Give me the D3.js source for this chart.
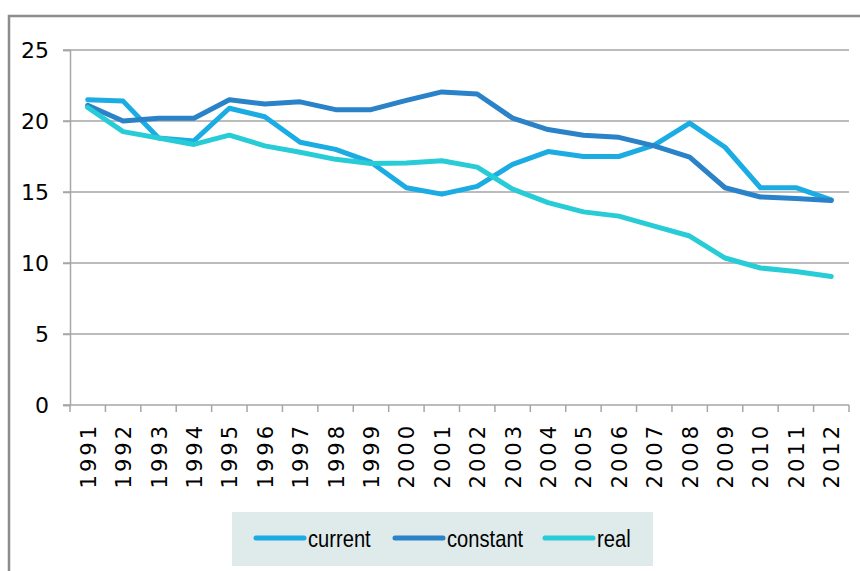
<!DOCTYPE html>
<html>
<head>
<meta charset="utf-8">
<script src="https://cdn.jsdelivr.net/npm/d3@7"></script>
<style>
  body { margin: 0; background: #fff; }
  svg { display: block; }
</style>
</head>
<body>
<div id="chart"></div>
<script>
var years = ['1991','1992','1993','1994','1995','1996','1997','1998','1999','2000','2001',
             '2002','2003','2004','2005','2006','2007','2008','2009','2010','2011','2012'];
var current  = [21.5,21.4,18.8,18.6,20.9,20.3,18.5,18.0,17.1,15.3,14.85,15.4,16.95,17.85,17.5,17.5,18.3,19.85,18.15,15.3,15.3,14.45];
var constant = [21.1,20.0,20.2,20.2,21.5,21.2,21.35,20.8,20.8,21.45,22.05,21.9,20.2,19.4,19.0,18.85,18.25,17.45,15.3,14.65,14.55,14.4];
var real     = [20.95,19.25,18.8,18.35,19.0,18.25,17.8,17.3,17.0,17.05,17.2,16.75,15.2,14.25,13.6,13.3,12.6,11.9,10.35,9.65,9.4,9.05];
var yTicks = [0, 5, 10, 15, 20, 25];

var series = [
  {name: 'current', values: current, color: '#1BACE3'},
  {name: 'constant', values: constant, color: '#2A82C8'},
  {name: 'real', values: real, color: '#28CCD6'}
];

var width = 860, height = 571;
var svg = d3.select('#chart').append('svg')
    .attr('width', width)
    .attr('height', height);

// outer frame (top + left edge only visible)
svg.append('path')
    .attr('d', 'M9,571 V16 H860')
    .attr('fill', 'none')
    .attr('stroke', '#8c8c8c')
    .attr('stroke-width', 2.5);

var x = d3.scaleBand().domain(years).range([70, 849]);
var y = d3.scaleLinear().domain([0, 25]).range([405, 50]);

// grid lines
svg.append('g')
  .selectAll('line')
  .data(yTicks.filter(function(d){ return d > 0; }))
  .enter().append('line')
    .attr('x1', 63).attr('x2', 849)
    .attr('y1', function(d){ return y(d); })
    .attr('y2', function(d){ return y(d); })
    .attr('stroke', '#a6a6a6')
    .attr('stroke-width', 1.5);

// y axis
var yAxis = svg.append('g')
    .attr('transform', 'translate(70,0)')
    .call(d3.axisLeft(y).tickValues(yTicks).tickSize(7).tickPadding(14));
yAxis.select('.domain').attr('stroke', '#a6a6a6').attr('stroke-width', 1.5);
yAxis.selectAll('.tick line').attr('stroke', '#a6a6a6').attr('stroke-width', 1.5);
yAxis.selectAll('text')
    .attr('font-family', 'DejaVu Sans, sans-serif')
    .attr('font-size', 22)
    .attr('fill', '#000');

// x axis: ticks on band edges
var xAxis = svg.append('g')
    .attr('transform', 'translate(0,' + y(0) + ')');
xAxis.append('line')
    .attr('x1', 63).attr('x2', 849)
    .attr('stroke', '#a6a6a6').attr('stroke-width', 1.5);
xAxis.selectAll('.xt')
  .data(years.concat(['end']))
  .enter().append('line')
    .attr('class', 'xt')
    .attr('x1', function(d, i){ return i < years.length ? x(d) : x.range()[1]; })
    .attr('x2', function(d, i){ return i < years.length ? x(d) : x.range()[1]; })
    .attr('y1', 0).attr('y2', 7)
    .attr('stroke', '#a6a6a6').attr('stroke-width', 1.5);
xAxis.selectAll('.xl')
  .data(years)
  .enter().append('text')
    .attr('class', 'xl')
    .attr('transform', function(d){
      return 'translate(' + (x(d) + x.bandwidth() / 2 + 8) + ',18) rotate(-90)';
    })
    .attr('text-anchor', 'end')
    .attr('font-family', 'DejaVu Sans, sans-serif')
    .attr('font-size', 21)
    .attr('letter-spacing', 3)
    .attr('fill', '#000')
    .text(function(d){ return d; });

// lines
var line = d3.line()
    .x(function(d, i){ return x(years[i]) + x.bandwidth() / 2; })
    .y(function(d){ return y(d); });

svg.append('g')
  .selectAll('path')
  .data(series)
  .enter().append('path')
    .attr('d', function(s){ return line(s.values); })
    .attr('fill', 'none')
    .attr('stroke', function(s){ return s.color; })
    .attr('stroke-width', 5)
    .attr('stroke-linejoin', 'round')
    .attr('stroke-linecap', 'round');

// legend
var legend = svg.append('g');
legend.append('rect')
    .attr('x', 232).attr('y', 512)
    .attr('width', 421).attr('height', 54)
    .attr('fill', '#dfeaeb');

var legendX = [256, 395, 545];
var item = legend.selectAll('.item')
  .data(series)
  .enter().append('g')
    .attr('class', 'item')
    .attr('transform', function(d, i){ return 'translate(' + legendX[i] + ',538)'; });
item.append('line')
    .attr('x1', 0).attr('x2', 48)
    .attr('stroke', function(d){ return d.color; })
    .attr('stroke-width', 5)
    .attr('stroke-linecap', 'round');
// condensed look: squeeze the text horizontally
item.append('text')
    .attr('transform', 'translate(52,9) scale(0.84,1)')
    .attr('font-family', 'Liberation Sans, Arial, sans-serif')
    .attr('font-size', 24)
    .attr('fill', '#000')
    .text(function(d){ return d.name; });
</script>
</body>
</html>
